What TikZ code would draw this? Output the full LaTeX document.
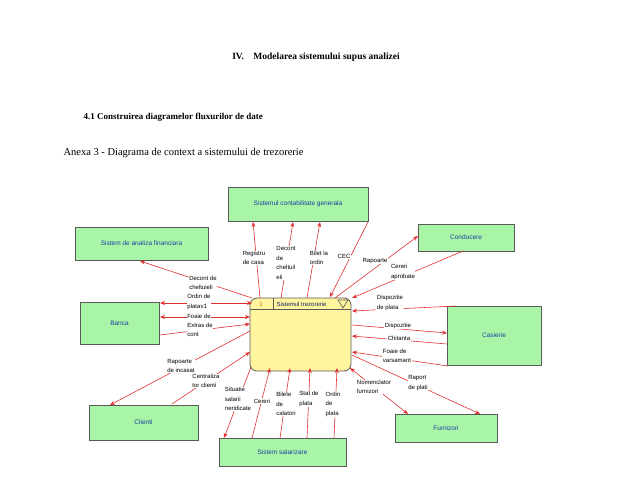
\documentclass[tikz,border=0pt]{standalone}
\usepackage{fontspec}
\setmainfont{Liberation Serif}
\newfontfamily\lab{Liberation Sans}
\usetikzlibrary{arrows.meta}
\definecolor{gbox}{HTML}{A8F5A8}
\definecolor{ybox}{HTML}{FFF59E}
\definecolor{btxt}{HTML}{1A3FA0}
\definecolor{fl}{HTML}{E03030}
\tikzset{
 ent/.style={draw=black!65,fill=gbox,line width=0.8pt,font=\lab\fontsize{6.5}{8}\selectfont,text=btxt},
 flw/.style={draw=fl,line width=0.6pt,-{Stealth[length=5pt,width=4pt]}},
 flb/.style={draw=fl,line width=0.6pt,{Stealth[length=5pt,width=4pt]}-{Stealth[length=5pt,width=4pt]}},
 lbl/.style={fill=white,inner sep=0.5pt,align=left,font=\lab\fontsize{6}{9.5}\selectfont}
}
\begin{document}
\begin{tikzpicture}[x=1pt,y=-1pt]
\useasboundingbox (0,0) rectangle (638,493);
\node[font=\bfseries\fontsize{9.5}{11}\selectfont] (t1) at (316,57) {IV.\quad Modelarea sistemului supus analizei};
\node[anchor=west,font=\bfseries\fontsize{9}{10}\selectfont] (t2) at (80,117) {4.1 Construirea diagramelor fluxurilor de date};
\node[anchor=west,font=\fontsize{10.5}{12}\selectfont] (t3) at (60,153) {Anexa 3 - Diagrama de context a sistemului de trezorerie};
% entities
\node[ent,minimum width=140pt,minimum height=34pt] (cg) at (298,204) {Sistemul contabilitate generala};
\node[ent,minimum width=133pt,minimum height=33pt] (af) at (141.5,243.5) {Sistem de analiza financiara};
\node[ent,minimum width=79pt,minimum height=42pt] (ba) at (119.5,323) {Banca};
\node[ent,minimum width=96pt,minimum height=27pt] (co) at (466,237.5) {Conducere};
\node[ent,minimum width=94pt,minimum height=59pt] (ca) at (494,335.5) {Casierie};
\node[ent,minimum width=109pt,minimum height=35pt] (cl) at (143.5,422.5) {Clienti};
\node[ent,minimum width=127pt,minimum height=28pt] (ss) at (282.5,452) {Sistem salarizare};
\node[ent,minimum width=102pt,minimum height=28pt] (fu) at (446,428) {Furnizori};
% central process
\node[draw=black!65,fill=ybox,line width=0.8pt,rounded corners=7pt,minimum width=101pt,minimum height=73pt] (st) at (300.5,334.5) {};
\draw[black!65,line width=0.6pt] (st.north west) ++(0,12) coordinate (h1) -- (st.north east |- h1) coordinate (h2);
\draw[black!65,line width=0.6pt] (273,298) coordinate (h3) -- (273,310) coordinate (h4);
\node[font=\lab\fontsize{6}{7}\selectfont,text=orange!80!black] (n1) at (261,304) {1};
\node[anchor=west,font=\lab\fontsize{6}{7}\selectfont,text=btxt!60!black] (n2) at (273,304) {Sistemul trezorerie};
\draw[black!65,line width=0.6pt] (338,300) coordinate (v1) -- (348,300) coordinate (v2) -- (343,308) coordinate (v3) -- cycle;
% coordinates
\foreach \n/\x/\y in {a1/260/298,a2/253/222,b1/281/298,b2/293/222,c1/307/298,c2/320/222,d1/368/222,d2/330/297,
 e1/335/298,e2/418/236,f1/463/251,f2/352/298,g1/252/298,g2/140/261,h5/160/303,h6/252/303,i1/160/317,i2/250/317,
 j1/160/335,j2/250/324,k1/250/331,k2/110/405,l1/172/404,l2/250/352,m1/251/367,m2/224/438,o1/252/438,o2/270/368,
 p1/280/438,p2/290/368,q1/307/438,q2/310/368,r1/334/438,r2/337/368,s1/408/414,s2/350/368,u1/352/355,u2/480/414,
 w1/456/306,w2/352/311,y1/352/325,y2/447/333,z1/447/344,z2/352/336,x1/448/366,x2/352/352}
 {\coordinate (\n) at (\x,\y);}
\draw[flw] (a1)--(a2); \draw[flw] (b1)--(b2); \draw[flw] (c1)--(c2); \draw[flw] (d1)--(d2);
\draw[flw] (e1)--(e2); \draw[flw] (f1)--(f2); \draw[flw] (g1)--(g2); \draw[flb] (h5)--(h6);
\draw[flb] (i1)--(i2); \draw[flw] (j1)--(j2); \draw[flw] (k1)--(k2); \draw[flw] (l1)--(l2);
\draw[flw] (m1)--(m2); \draw[flw] (o1)--(o2); \draw[flw] (p1)--(p2); \draw[flw] (q1)--(q2);
\draw[flw] (r1)--(r2); \draw[flb] (s1)--(s2); \draw[flw] (u1)--(u2); \draw[flw] (w1)--(w2);
\draw[flw] (y1)--(y2); \draw[flw] (z1)--(z2); \draw[flw] (x1)--(x2);
% labels
\node[lbl] (L1) at (254,258) {Registru\\de casa};
\node[lbl] (L2) at (286,263) {Decont\\de\\cheltuil\\eli};
\node[lbl] (L3) at (319,258) {Bilet la\\ordin};
\node[lbl] (L4) at (344,256) {CEC};
\node[lbl] (L5) at (375,261) {Rapoarte};
\node[lbl] (L6) at (403,272) {Cereri\\aprobate};
\node[lbl] (L7) at (203,283) {Decont de\\cheltuieli};
\node[lbl] (L8) at (199,302) {Ordin de\\platav1};
\node[lbl] (L9) at (199,316) {Foaie de};
\node[lbl] (L10) at (200,330) {Extras de\\cont};
\node[lbl] (L11) at (181,366) {Rapoarte\\de incasat};
\node[lbl] (L12) at (206,381) {Centraliza\\tor clienti};
\node[lbl] (L13) at (238,399) {Situatie\\salarii\\neridicate};
\node[lbl] (L14) at (262,401) {Cereri};
\node[lbl] (L15) at (286,404) {Bilete\\de\\calatori};
\node[lbl] (L16) at (309,399) {Stat de\\plata};
\node[lbl] (L17) at (333,404) {Ordin\\de\\plata};
\node[lbl] (L18) at (374,387) {Nomenclator\\furnizori};
\node[lbl] (L19) at (418,383) {Raport\\de plati};
\node[lbl] (L20) at (390,303) {Dispozitie\\de plata};
\node[lbl] (L21) at (398,326) {Dispozitie};
\node[lbl] (L22) at (399,338) {Chitanta};
\node[lbl] (L23) at (397,356) {Foaie de\\varsamant};
\end{tikzpicture}
\end{document}
